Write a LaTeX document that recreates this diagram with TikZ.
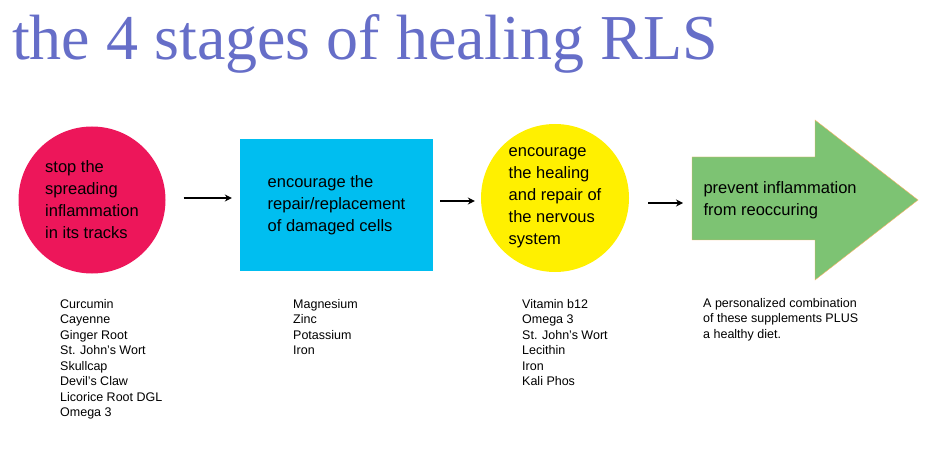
\documentclass[tikz,border=0pt]{standalone}
\usepackage{fontspec}
\setmainfont{Liberation Sans}
\newfontfamily\titlefont{Liberation Serif}
\usetikzlibrary{positioning,arrows.meta}
\definecolor{titleblue}{RGB}{102,110,200}
\definecolor{stagered}{RGB}{237,22,90}
\definecolor{stageblue}{RGB}{0,190,240}
\definecolor{stageyellow}{RGB}{255,240,0}
\definecolor{stagegreen}{RGB}{125,195,115}
\tikzset{
  stagetext/.style={font=\fontsize{16.5}{22}\selectfont, align=left},
  listtext/.style={font=\fontsize{12.5}{15.5}\selectfont, align=left, anchor=north west, inner sep=0pt},
  flow/.style={-{Stealth[length=7pt,width=7pt]}, line width=2.4pt}
}
\begin{document}
\begin{tikzpicture}[x=1pt,y=-1pt]
\useasboundingbox (0,0) rectangle (936,454);
% title
\node[anchor=base west, inner sep=0pt, text=titleblue, font=\titlefont\fontsize{64}{64}\selectfont] (title) at (12,60) {the 4 stages of healing RLS};

% the four stages
\node[circle, fill=stagered, minimum size=147pt, stagetext, inner sep=0pt] (stop) at (92,200) {stop the\\spreading\\inflammation\\in its tracks};
\node[rectangle, fill=stageblue, minimum width=193pt, minimum height=132pt, stagetext] (repair) at (336.5,205) {encourage the\\repair/replacement\\of damaged cells};
\node[circle, fill=stageyellow, minimum size=148pt, stagetext, inner sep=0pt] (heal) at (555,198) {encourage\\the healing\\and repair of\\the nervous\\system};
\fill[stagegreen, draw=orange!60, line width=0.4pt] (692,157) -- (815,157) -- (815,120) -- (918,200) -- (815,280) -- (815,240) -- (692,240) -- cycle;
\coordinate (prevent) at (692,203);
\node[stagetext, anchor=west] (preventtext) at (700,200) {prevent inflammation\\from reoccuring};

% connectors
\draw[flow] ([xshift=18pt,yshift=2pt]stop.east) -- ([xshift=-8pt,yshift=7pt]repair.west);
\draw[flow] ([yshift=4pt,xshift=7pt]repair.east) -- ([yshift=-3pt,xshift=-6pt]heal.west);
\draw[flow] ([yshift=-5pt,xshift=19pt]heal.east) -- ([xshift=-9pt]prevent);

% supplement lists
\node[listtext] (list1) at (60,299) {Curcumin\\Cayenne\\Ginger Root\\St. John's Wort\\Skullcap\\Devil's Claw\\Licorice Root DGL\\Omega 3};
\node[listtext] (list2) at (293,299) {Magnesium\\Zinc\\Potassium\\Iron};
\node[listtext] (list3) at (522,299) {Vitamin b12\\Omega 3\\St. John's Wort\\Lecithin\\Iron\\Kali Phos};
\node[listtext] (list4) at (703,298) {A personalized combination\\of these supplements PLUS\\a healthy diet.};
\end{tikzpicture}
\end{document}
